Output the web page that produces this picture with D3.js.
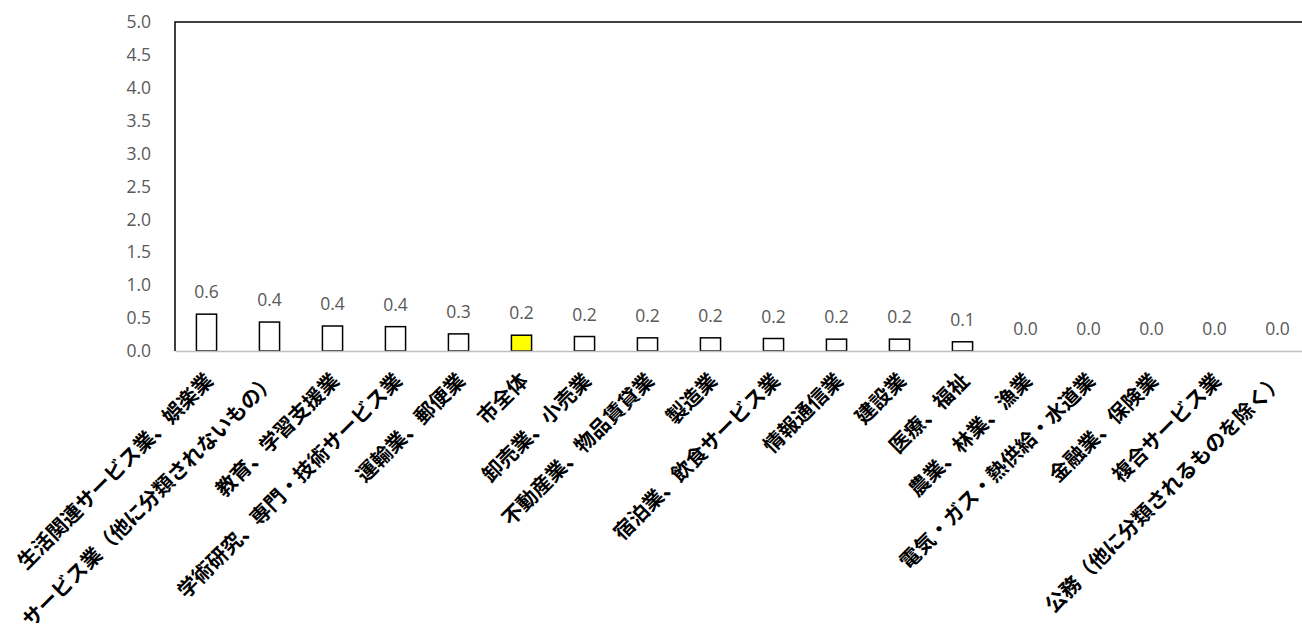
<!DOCTYPE html>
<html><head><meta charset="utf-8">
<script src="https://cdn.jsdelivr.net/npm/d3@7"></script>
<style>body{margin:0;background:#fff;overflow:hidden}</style>
</head><body>
<svg id="chart" width="1302" height="625"></svg>
<script>
const categories = ["生活関連サービス業、娯楽業","サービス業（他に分類されないもの）","教育、学習支援業","学術研究、専門・技術サービス業","運輸業、郵便業","市全体","卸売業、小売業","不動産業、物品賃貸業","製造業","宿泊業、飲食サービス業","情報通信業","建設業","医療、福祉","農業、林業、漁業","電気・ガス・熱供給・水道業","金融業、保険業","複合サービス業","公務（他に分類されるものを除く）"];
const values = [0.56,0.44,0.38,0.37,0.26,0.24,0.22,0.20,0.20,0.19,0.18,0.18,0.14,0,0,0,0,0];
const highlight = "市全体";
const yTicks = [0,0.5,1.0,1.5,2.0,2.5,3.0,3.5,4.0,4.5,5.0];

const svg = d3.select("#chart");
const mLeft = 175, mTop = 22, mBottom = 351, mRight = 1309;
const x = d3.scaleBand().domain(categories).range([mLeft, mRight]).paddingInner(0.68).paddingOuter(0.34);
const y = d3.scaleLinear().domain([0,5]).range([mBottom, mTop]);
const fmt = d3.format(".1f");
const numFont = "'Open Sans', 'Noto Sans', sans-serif";

// plot border (top, left, right)
svg.append("path")
  .attr("d", `M${mLeft},${mBottom} V${mTop} H${mRight} V${mBottom}`)
  .attr("fill","none").attr("stroke","#000").attr("stroke-width",1.5);

// y axis labels
const yAxis = d3.axisLeft(y).tickValues(yTicks).tickFormat(fmt).tickSize(0).tickPadding(24);
const ya = svg.append("g").attr("transform",`translate(${mLeft},0)`).call(yAxis);
ya.select(".domain").remove();
ya.selectAll("text").attr("fill","#595959").style("font-family",numFont).style("font-size","17.5px");

// bars
svg.append("g").selectAll("rect").data(categories).join("rect")
  .attr("x", d => x(d))
  .attr("y", (d,i) => y(values[i]))
  .attr("width", x.bandwidth())
  .attr("height", (d,i) => y(0) - y(values[i]))
  .attr("fill", d => d === highlight ? "#FFFF00" : "#fff")
  .attr("stroke","#000").attr("stroke-width",1.5);

// x axis
const xAxis = d3.axisBottom(x).tickSize(0).tickPadding(0);
const xa = svg.append("g").attr("transform",`translate(0,${mBottom})`).call(xAxis);
xa.select(".domain").attr("stroke","#BFBFBF").attr("stroke-width",1.5);
xa.selectAll("text")
  .attr("y",0).attr("dy","0.35em")
  .attr("text-anchor","end")
  .attr("transform", "translate(3,26) rotate(-45)")
  .attr("x",0)
  .attr("fill","#000")
  .style("font-family","'Noto Sans CJK JP', sans-serif")
  .style("font-weight","bold")
  .style("font-size","20.5px");

// value labels
svg.append("g").selectAll("text").data(categories).join("text")
  .attr("x", d => x(d) + x.bandwidth()/2)
  .attr("y", (d,i) => y(values[i]) - 22)
  .attr("dy","0.35em")
  .attr("text-anchor","middle")
  .attr("fill","#595959")
  .style("font-family",numFont).style("font-size","17.5px")
  .text((d,i) => fmt(values[i]));
</script>
</body></html>
